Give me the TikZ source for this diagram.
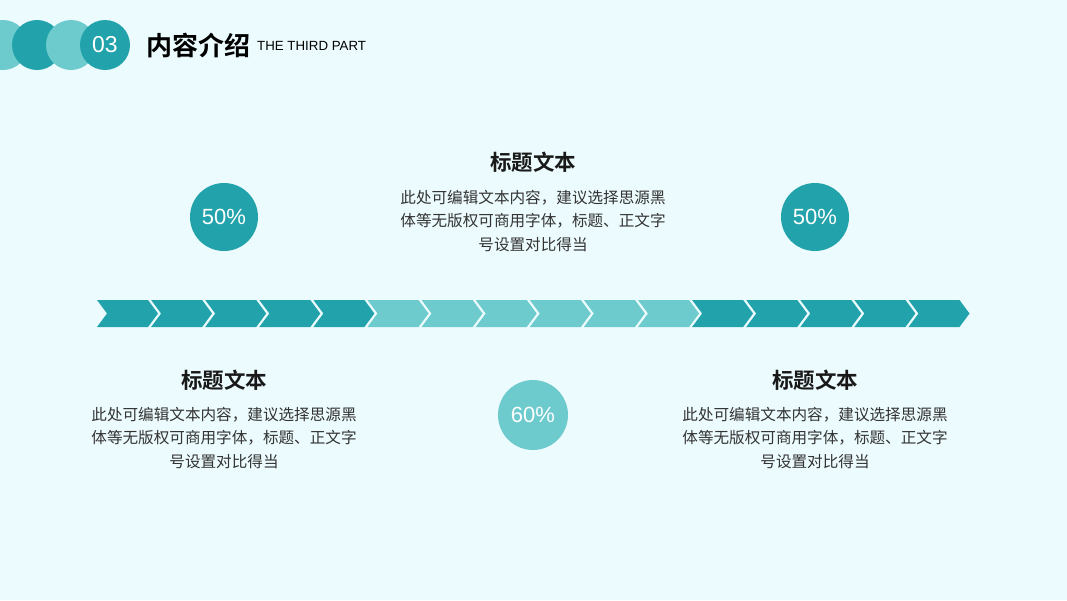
\documentclass[tikz,border=0pt]{standalone}
\usepackage{fontspec}
\setmainfont{Liberation Sans}
\newfontfamily\cjk{Noto Sans CJK SC}
\newfontfamily\cjkb{Noto Sans CJK SC Bold}
\definecolor{bgc}{HTML}{ECFBFD}
\definecolor{tdark}{HTML}{22A3AC}
\definecolor{tlight}{HTML}{6DCBCE}
\definecolor{txt}{HTML}{333333}
\tikzset{
  hdot/.style={circle,minimum size=50pt,inner sep=0pt},
  pct/.style={circle,minimum size=68pt,inner sep=0pt,text=white,font=\fontsize{22}{24}\selectfont},
  heading/.style={font=\cjkb\fontsize{21.5}{24}\selectfont,text=black!90},
  body/.style={font=\cjk\fontsize{15.6}{23.5}\selectfont,text=txt,align=center,inner sep=0pt},
}
\begin{document}
\begin{tikzpicture}[x=1pt,y=-1pt]
\useasboundingbox[fill=bgc] (0,0) rectangle (1067,600);
% header circles
\node[hdot,fill=tlight] (h1) at (3,45) {};
\node[hdot,fill=tdark] (h2) at (37,45) {};
\node[hdot,fill=tlight] (h3) at (71,45) {};
\node[hdot,fill=tdark,text=white,font=\fontsize{23}{25}\selectfont] (h4) at (105,45) {03};
\node[anchor=west,inner sep=0pt,font=\cjkb\fontsize{26}{28}\selectfont,text=black] (title) at (146,45) {内容介绍};
\node[anchor=west,inner sep=0pt,font=\fontsize{13.3}{15}\selectfont,text=black] (sub) at (257,46) {THE THIRD PART};
% chevrons
\foreach \i in {0,...,15}{
  \pgfmathsetmacro{\xx}{97+54.1*\i}
  \ifnum\i<5 \def\cc{tdark}\else\ifnum\i<11 \def\cc{tlight}\else\def\cc{tdark}\fi\fi
  \fill[\cc] (\xx,300) -- ++(51,0) -- ++(10,13.5) -- ++(-10,13.5) -- ++(-51,0) -- ++(10,-13.5) -- cycle;
}
% percent circles
\node[pct,fill=tdark] (p1) at (224,217) {50\%};
\node[pct,fill=tdark] (p2) at (815,217) {50\%};
\node[pct,fill=tlight,minimum size=70pt] (p3) at (533,415) {60\%};
% text blocks
\node[heading] (t1) at (533,162) {标题文本};
\node[body] (b1) at (533,221) {此处可编辑文本内容，建议选择思源黑\\体等无版权可商用字体，标题、正文字\\号设置对比得当};
\node[heading] (t2) at (224,380) {标题文本};
\node[body] (b2) at (224,438) {此处可编辑文本内容，建议选择思源黑\\体等无版权可商用字体，标题、正文字\\号设置对比得当};
\node[heading] (t3) at (815,380) {标题文本};
\node[body] (b3) at (815,438) {此处可编辑文本内容，建议选择思源黑\\体等无版权可商用字体，标题、正文字\\号设置对比得当};
\end{tikzpicture}
\end{document}
